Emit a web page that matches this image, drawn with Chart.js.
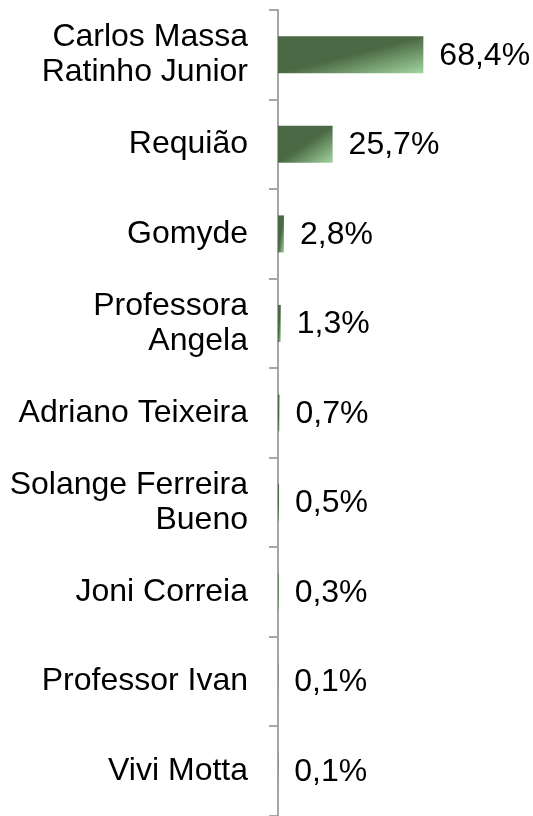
<!DOCTYPE html>
<html>
<head>
<meta charset="utf-8">
<script src="https://cdn.jsdelivr.net/npm/chart.js@4/dist/chart.umd.min.js"></script>
<style>
html,body{margin:0;padding:0;background:#fff;}
#wrap{width:533px;height:816px;position:relative;}
</style>
</head>
<body>
<div id="wrap"><canvas id="c"></canvas></div>
<script>
const categories = [
  ["Carlos Massa", "Ratinho Junior"],
  "Requião",
  "Gomyde",
  ["Professora", "Angela"],
  "Adriano Teixeira",
  ["Solange Ferreira", "Bueno"],
  "Joni Correia",
  "Professor Ivan",
  "Vivi Motta"
];
const values = [68.4, 25.7, 2.8, 1.3, 0.7, 0.5, 0.3, 0.1, 0.1];
const valueLabels = ["68,4%", "25,7%", "2,8%", "1,3%", "0,7%", "0,5%", "0,3%", "0,1%", "0,1%"];

const FONT = "'Liberation Sans', Arial, sans-serif";
const DARK = "#4b6944";
const LIGHT = "#a2d59e";

function barFill(ctx) {
  const chart = ctx.chart;
  if (!chart.chartArea || !chart.scales.x || !chart.scales.y) return DARK;
  const meta = chart.getDatasetMeta(ctx.datasetIndex);
  const el = meta.data[ctx.dataIndex];
  const xs = chart.scales.x, ys = chart.scales.y;
  const x0 = xs.getPixelForValue(0);
  const x1 = xs.getPixelForValue(values[ctx.dataIndex]);
  const yc = ys.getPixelForValue(ctx.dataIndex);
  const h = el && el.height ? el.height : 37;
  const y0 = yc - h / 2;
  const w = Math.max(1, x1 - x0);
  const t = 2 * w * h / (w * w + h * h);
  const g = chart.ctx.createLinearGradient(x0, y0, x0 + t * h, y0 + t * w);
  g.addColorStop(0, DARK);
  g.addColorStop(0.5, DARK);
  g.addColorStop(1, LIGHT);
  return g;
}

const valueLabelPlugin = {
  id: 'valueLabels',
  afterDatasetsDraw(chart) {
    const c = chart.ctx;
    const meta = chart.getDatasetMeta(0);
    c.save();
    c.font = "32px " + FONT;
    c.fillStyle = "#000";
    c.textAlign = "left";
    c.textBaseline = "middle";
    meta.data.forEach((bar, i) => {
      c.fillText(valueLabels[i], bar.x + 16, bar.y + 1);
    });
    c.restore();
  }
};

new Chart(document.getElementById('c'), {
  type: 'bar',
  data: {
    labels: categories,
    datasets: [{
      data: values,
      backgroundColor: barFill,
      borderWidth: 0,
      categoryPercentage: 0.413,
      barPercentage: 1
    }]
  },
  options: {
    indexAxis: 'y',
    responsive: true,
    maintainAspectRatio: false,
    animation: false,
    layout: { padding: { top: 10, bottom: 0, left: 0, right: 0 } },
    plugins: {
      legend: { display: false },
      tooltip: { enabled: false }
    },
    scales: {
      x: {
        display: false,
        min: 0,
        max: 120
      },
      y: {
        afterFit(scale) {
          scale.width = 278;
          scale.paddingTop = 0;
          scale.paddingBottom = 0;
        },
        grid: {
          display: true,
          offset: true,
          drawOnChartArea: false,
          drawTicks: true,
          tickLength: 9,
          color: "#a6a6a6",
          lineWidth: 2
        },
        border: { display: true, color: "#a6a6a6", width: 2 },
        ticks: {
          autoSkip: false,
          color: "#000",
          padding: 21,
          font: { family: FONT, size: 32, lineHeight: 1.1 }
        }
      }
    }
  },
  plugins: [valueLabelPlugin]
});
</script>
</body>
</html>
